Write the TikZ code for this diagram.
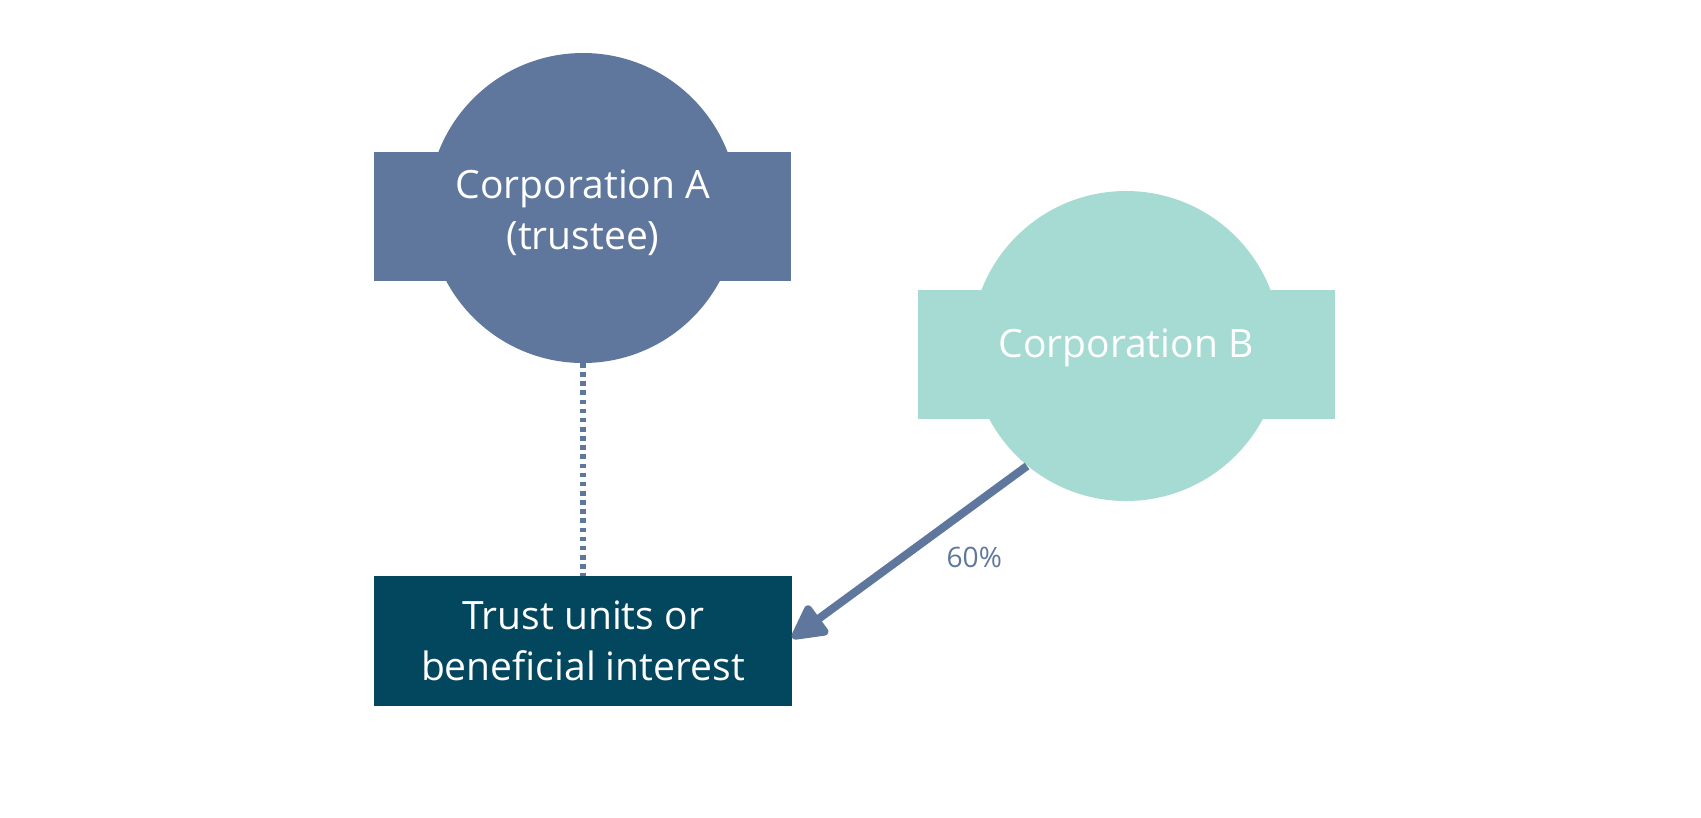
\documentclass[tikz,border=0pt]{standalone}
\usepackage{fontspec}
\setmainfont{Open Sans}
\usetikzlibrary{arrows.meta}
\definecolor{corpA}{HTML}{5F779D}
\definecolor{corpB}{HTML}{A5DBD2}
\definecolor{trust}{HTML}{03475F}
\begin{document}
\begin{tikzpicture}[x=0.01cm,y=-0.01cm,
    corp/.style={text=white,font=\fontsize{11.1}{14.6}\selectfont,align=center},
    box/.style={minimum width=4.17cm,minimum height=1.29cm,inner sep=0pt}]
    \useasboundingbox (0,0) rectangle (1701,817);
    % Corporation A
    \fill[corpA] (583,208) circle (155);
    \fill[corpA] (374,152) rectangle (791,281);
    \node[corp] (corpa) at (583,213) {Corporation A\\(trustee)};
    \coordinate (abot) at (583,363);
    % Corporation B
    \fill[corpB] (1126,346) circle (155);
    \fill[corpB] (918,290) rectangle (1335,419);
    \node[corp] (corpb) at (1126,348) {Corporation B};
    \coordinate (bout) at (1027,466);
    % trust units
    \node[box,fill=trust,corp] (units) at (583,641) {Trust units or\\beneficial interest};
    \draw[corpA,line width=1.5pt,dash pattern=on 1.3pt off 1.3pt] (abot)--(units.north);
    \draw[corpA,line width=2.3pt,-{Triangle[length=11pt,width=11pt,round]}] (bout)--(units.east|-0,638)
        node[pos=0.38,below right,font=\fontsize{8}{10}\selectfont,xshift=-2pt] {60\%};
\end{tikzpicture}
\end{document}
